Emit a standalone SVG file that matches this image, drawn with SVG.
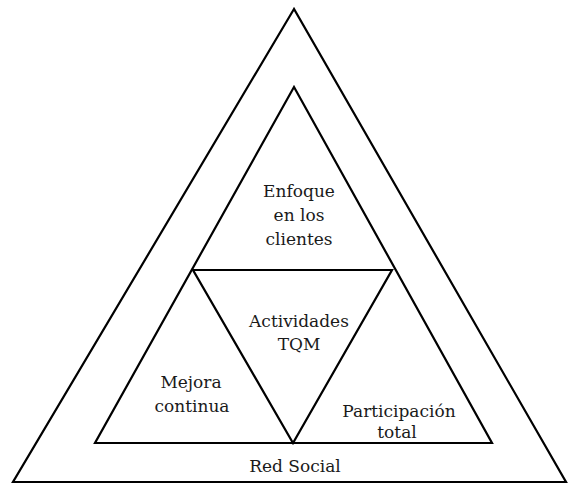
<svg xmlns="http://www.w3.org/2000/svg" width="569" height="484" viewBox="0 0 569 484">
  <style>
    .tri { fill: none; stroke: #000; stroke-width: 2.2; stroke-linejoin: miter; }
    .lbl { font-family: "DejaVu Serif", "Liberation Serif", serif; font-size: 17px; fill: #1a1a1a; text-anchor: middle; }
  </style>
  <rect width="569" height="484" fill="#fff"/>
  <g id="connectors">
    <!-- outer triangle -->
    <polygon class="tri" points="294,9 13,482 566,482"/>
    <!-- inner triangle -->
    <polygon class="tri" points="294,87 95,443 492,443"/>
    <!-- inverted centre triangle -->
    <polygon class="tri" points="193,270 392,270 293,443"/>
  </g>
  <g id="enfoque">
    <text class="lbl" x="299" y="197">Enfoque</text>
    <text class="lbl" x="299" y="221">en los</text>
    <text class="lbl" x="299" y="245">clientes</text>
  </g>
  <g id="actividades">
    <text class="lbl" x="299" y="327">Actividades</text>
    <text class="lbl" x="299" y="350">TQM</text>
  </g>
  <g id="mejora">
    <text class="lbl" x="191" y="388">Mejora</text>
    <text class="lbl" x="192" y="412">continua</text>
  </g>
  <g id="participacion">
    <text class="lbl" x="399" y="417">Participación</text>
    <text class="lbl" x="397" y="438">total</text>
  </g>
  <g id="red-social">
    <text class="lbl" x="295" y="472">Red Social</text>
  </g>
</svg>
